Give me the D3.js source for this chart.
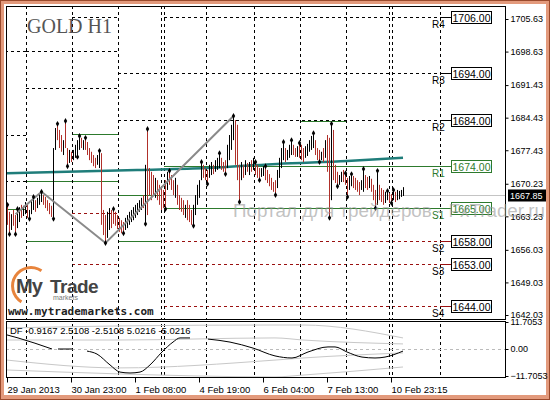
<!DOCTYPE html>
<html>
<head>
<meta charset="UTF-8">
<title>GOLD H1</title>
<script src="https://d3js.org/d3.v7.min.js"></script>
<style>
    body { margin: 0; padding: 0; background: #fff; }
    svg text { font-family: "Liberation Sans", Arial, sans-serif; }
</style>
</head>
<body>
<svg id="chart" width="550" height="400"></svg>
<script>
// price axis + time axis
const priceTicks = [1705.63, 1698.63, 1691.43, 1684.43, 1677.43, 1670.23, 1663.23, 1656.03, 1649.03, 1642.03];
const lastPrice = 1667.85;
const timeLabels = ["29 Jan 2013", "30 Jan 23:00", "1 Feb 08:00", "4 Feb 19:00", "6 Feb 04:00", "7 Feb 13:00", "10 Feb 23:15"];
const timeLabelBars = [0, 32, 64, 96, 128, 160, 192];
const dayStarts = [10, 33, 56, 77.5, 79, 100, 124, 147, 170, 191.5, 193, 217];

// H1 bars
const highs = [
    1665.7, 1664.2, 1663.7, 1664.6, 1663.5, 1664.8, 1665.2, 1665.7, 1665.5, 1666.3,
    1665.7, 1664.6, 1666.7, 1667.4, 1666.7, 1667.2, 1668.0, 1668.5, 1667.8, 1667.4,
    1666.7, 1666.1, 1665.5, 1677.9, 1682.2, 1683.1, 1681.8, 1680.7, 1679.6, 1683.7,
    1677.9, 1677.5, 1677.1, 1677.5, 1678.6, 1679.6, 1680.5, 1680.1, 1679.6, 1680.1,
    1679.2, 1677.9, 1677.1, 1676.4, 1675.8, 1676.4, 1677.3, 1676.8, 1664.6, 1663.5,
    1664.2, 1665.0, 1664.6, 1664.8, 1664.2, 1663.5, 1662.9, 1662.4, 1662.0, 1662.9,
    1663.5, 1664.2, 1664.6, 1665.2, 1665.7, 1666.1, 1666.7, 1667.2, 1667.8, 1674.3,
    1682.0, 1673.6, 1672.8, 1672.1, 1671.5, 1671.0, 1670.0, 1669.3, 1668.9, 1671.0,
    1672.8, 1673.0, 1672.1, 1671.0, 1671.5, 1670.0, 1667.8, 1667.2, 1666.7, 1665.7,
    1666.7, 1665.7, 1664.6, 1665.7, 1667.8, 1670.0, 1671.0, 1674.9, 1674.3, 1673.6,
    1673.2, 1674.3, 1674.9, 1674.3, 1675.3, 1675.8, 1676.8, 1675.8, 1674.9, 1675.3,
    1678.6, 1680.7, 1682.9, 1684.8, 1683.9, 1682.9, 1674.3, 1674.9, 1674.3, 1675.3,
    1674.7, 1674.9, 1675.3, 1675.8, 1674.9, 1674.3, 1673.6, 1673.6, 1674.0, 1674.0,
    1673.2, 1672.3, 1671.5, 1670.6, 1671.0, 1673.2, 1675.8, 1677.9, 1679.2, 1677.9,
    1677.5, 1678.6, 1679.6, 1678.6, 1677.9, 1678.3, 1679.0, 1678.6, 1677.9, 1678.3,
    1678.8, 1679.6, 1680.5, 1681.1, 1679.6, 1677.9, 1677.5, 1677.1, 1677.9, 1679.6,
    1680.7, 1680.1, 1683.1, 1681.8, 1674.3, 1672.8, 1672.1, 1672.8, 1673.2, 1672.5,
    1671.5, 1671.9, 1672.3, 1671.9, 1671.5, 1671.0, 1670.6, 1671.0, 1673.4, 1672.1,
    1671.7, 1671.9, 1671.3, 1670.0, 1668.9, 1673.0, 1670.0, 1669.3, 1668.9, 1668.5,
    1668.7, 1668.2, 1668.0, 1668.9, 1668.5, 1668.9, 1668.7, 1668.9, 1669.5
];
const lows = [
    1661.4, 1659.4, 1660.3, 1661.2, 1659.4, 1660.7, 1662.0, 1662.9, 1663.3, 1663.7,
    1662.9, 1662.7, 1663.7, 1664.6, 1664.2, 1665.0, 1665.7, 1666.3, 1665.7, 1665.0,
    1664.4, 1663.7, 1663.1, 1662.7, 1677.5, 1679.6, 1677.9, 1677.1, 1676.4, 1677.9,
    1674.0, 1674.7, 1674.9, 1675.3, 1675.8, 1676.0, 1677.5, 1677.9, 1677.5, 1677.5,
    1676.4, 1675.3, 1674.7, 1674.0, 1673.6, 1674.3, 1673.6, 1661.4, 1659.2, 1657.5,
    1658.6, 1660.3, 1660.7, 1661.6, 1661.2, 1660.5, 1659.9, 1659.6, 1659.6, 1660.3,
    1660.7, 1661.4, 1662.0, 1662.4, 1662.9, 1663.5, 1664.2, 1664.6, 1665.0, 1661.6,
    1663.5, 1667.8, 1666.7, 1667.8, 1667.2, 1666.7, 1665.7, 1664.6, 1665.0, 1664.8,
    1668.9, 1670.0, 1668.9, 1667.8, 1667.2, 1665.7, 1664.6, 1664.2, 1663.5, 1662.9,
    1662.4, 1662.0, 1661.4, 1661.2, 1663.5, 1665.7, 1667.2, 1671.0, 1671.5, 1671.0,
    1670.2, 1671.5, 1672.1, 1672.3, 1672.8, 1673.2, 1673.6, 1673.2, 1672.8, 1672.3,
    1673.6, 1675.3, 1677.5, 1679.6, 1674.3, 1671.0, 1666.3, 1671.0, 1671.5, 1672.1,
    1672.8, 1672.1, 1672.8, 1673.2, 1672.1, 1671.5, 1671.0, 1671.7, 1671.9, 1671.0,
    1670.4, 1669.7, 1668.9, 1668.5, 1667.8, 1669.3, 1671.5, 1673.6, 1675.3, 1674.9,
    1675.3, 1675.8, 1676.4, 1676.4, 1676.0, 1676.0, 1675.8, 1675.3, 1674.9, 1675.8,
    1676.2, 1677.1, 1677.5, 1677.9, 1676.4, 1675.3, 1674.9, 1675.3, 1674.9, 1675.8,
    1672.8, 1662.9, 1666.7, 1671.0, 1670.4, 1669.7, 1670.0, 1670.6, 1670.6, 1670.0,
    1667.4, 1668.9, 1669.7, 1669.3, 1668.9, 1668.5, 1667.8, 1668.9, 1668.5, 1669.3,
    1668.9, 1669.3, 1668.5, 1666.7, 1665.0, 1665.7, 1666.7, 1666.3, 1665.7, 1666.1,
    1666.7, 1666.1, 1666.1, 1666.7, 1666.3, 1666.7, 1666.9, 1667.4, 1667.6
];
// 1 = bar closed lower (red), 0 = closed higher (black)
const bearish = [
    1,1,0,1,1,0,0,1,0,0, 1,0,0,0,1,0,0,0,1,1, 1,1,1,0,0,1,1,1,0,1, 1,0,1,0,0,0,0,1,0,1,
    1,1,1,1,1,0,0,1,1,1, 0,0,1,1,1,1,1,1,1,0, 0,0,0,0,0,0,0,0,1,0, 1,1,1,1,0,1,1,1,1,1,
    0,1,1,1,0,1,1,1,1,0, 1,1,1,0,0,0,0,0,1,1, 1,0,0,1,0,0,0,1,1,1, 0,0,0,0,1,1,1,0,1,0,
    1,0,1,0,1,1,1,0,0,1, 1,1,1,1,1,0,0,0,0,1, 0,0,0,1,1,0,1,1,1,0, 0,0,0,0,1,1,1,0,1,0,
    1,1,0,1,1,1,0,0,1,1, 1,0,0,1,1,1,1,0,0,1, 1,0,1,1,1,0,1,1,1,0, 0,1,1,0,1,0,0,0,0
];

const fractalUp = [0, 5, 13, 17, 25, 29, 36, 39, 46, 53, 70, 81, 97, 106, 113, 124, 129, 138, 142, 146, 153, 162, 169, 172, 178, 185, 190, 193];
const fractalDown = [1, 4, 11, 23, 30, 35, 49, 58, 69, 79, 93, 100, 109, 116, 126, 134, 156, 161, 165, 170, 184, 192];

const zigzagBars = [4, 17, 49, 113];
const zigzagPrices = [1663.7, 1668.5, 1657.5, 1684.8];

const maBars = [0, 65, 100, 135, 170, 198];
const maValues = [1672.5, 1673.2, 1673.6, 1674.5, 1675.1, 1675.8];

// pivot levels of the running week, with their tags
const levelNames = ["R4", "R3", "R2", "R1", "S1", "S2", "S3", "S4"];
const levelValues = [1706.00, 1694.00, 1684.00, 1674.00, 1665.00, 1658.00, 1653.00, 1644.00];
const levelStart = 79, levelEnd = 217;

// older pivot segments: [fromBar, toBar, price, kind]  kind R = resistance, G = R1/S1, S = support
const pivotSegs = [
    [-0.5, 10, 1698.7, "R"], [-0.5, 10, 1680.7, "R"], [-0.5, 10, 1670.8, "R"], [-0.5, 10, 1664.8, "G"],
    [10, 33, 1698.7, "R"], [10, 33, 1690.8, "R"], [10, 33, 1670.8, "G"], [10, 33, 1657.9, "G"],
    [33, 56, 1706.1, "R"], [33, 56, 1698.7, "R"], [33, 56, 1690.8, "R"], [33, 56, 1680.9, "G"],
    [33, 56, 1670.8, "G"], [33, 56, 1663.9, "S"], [33, 56, 1652.9, "S"],
    [56, 77.5, 1694.0, "R"], [56, 77.5, 1683.9, "R"], [56, 77.5, 1667.8, "G"], [56, 77.5, 1657.9, "G"],
    [147, 170, 1683.7, "G"]
];

// DF oscillator (null = gap)
const dfBars = [0, 5.5, 22.5, 24, 25.5, 33, 36, 40, 45, 51.5, 56.5, 61.5, 66.5, 71.5, 77.5, 83, 86.5, 91.5, 95,
    100.5, 111.5, 123, 134, 142.5, 150.5, 160.5, 164, 170, 177.5, 184, 189, 198];
const dfValues = [6.1, 4.8, 0, null, 0, 0, null, -0.9, -2.2, -6.9, -10.0, -10.4, -10.0, -6.9, -1.3, 3.0, 4.8, 4.8, null,
    4.3, 3.0, 0.4, -3.0, -3.9, -1.3, 0.9, 0.9, -1.3, -3.5, -3.9, -3.5, -0.9];
const bandBars = [0, 56, 134, 148, 198];
const bandUpper2 = [9.1, 10.0, 10.4, 10.4, 4.8];
const bandUpper1 = [3.9, 3.9, 4.8, 3.9, 2.2];
const bandLower1 = [-4.8, -8.2, -4.8, -3.9, -1.7];
const bandLower2 = [-9.1, -10.8, -12.1, -11.3, -7.8];
const dfTicks = [11.7053, 0, -11.7053];
const dfLegend = "DF -0.9167 2.5108 -2.5108 5.0216 -5.0216";

const plot = { left: 6, right: 505, top: 6, bottom: 319 };
const sub = { top: 321, bottom: 377 };

const svg = d3.select("#chart");

// frame
svg.append("rect").attr("width", 550).attr("height", 400).attr("fill", "#e39a7c");
svg.append("rect").attr("x", 0.5).attr("y", 0.5).attr("width", 549).attr("height", 399)
    .attr("fill", "none").attr("stroke", "#9a4a2c");
svg.append("rect").attr("x", 4).attr("y", 4).attr("width", 542).attr("height", 391).attr("fill", "#fff");

const x = d3.scaleLinear().domain([0, 249]).range([7, 505]);
const y = d3.scaleLinear().domain([1642.03, 1705.63]).range([315, 19]);
const yDf = d3.scaleLinear().domain([-11.7053, 11.7053]).range([376, 322]);

svg.append("clipPath").attr("id", "clipMain").append("rect")
    .attr("x", plot.left).attr("y", plot.top)
    .attr("width", plot.right - plot.left).attr("height", plot.bottom - plot.top);
svg.append("clipPath").attr("id", "clipSub").append("rect")
    .attr("x", plot.left).attr("y", sub.top)
    .attr("width", plot.right - plot.left).attr("height", sub.bottom - sub.top);

const main = svg.append("g").attr("clip-path", "url(#clipMain)");
const lower = svg.append("g").attr("clip-path", "url(#clipSub)");

// current price line
main.append("line")
    .attr("x1", plot.left).attr("x2", plot.right)
    .attr("y1", Math.round(y(lastPrice)) + 0.5).attr("y2", Math.round(y(lastPrice)) + 0.5)
    .attr("stroke", "#c4c4c4");

// logo panel
main.append("rect").attr("x", plot.left).attr("y", 268).attr("width", 112).attr("height", 51).attr("fill", "#fff");

const kindColor = { R: "#000", G: "#2d7a2d", S: "#9a1010" };
const kindDash = { R: "3,3", G: null, S: "3,3" };

main.selectAll(".seg")
    .data(pivotSegs)
    .enter().append("line")
    .attr("x1", d => x(d[0]) - 1).attr("x2", d => x(d[1]) - 1)
    .attr("y1", d => Math.round(y(d[2])) + 0.5).attr("y2", d => Math.round(y(d[2])) + 0.5)
    .attr("stroke", d => kindColor[d[3]])
    .attr("stroke-dasharray", d => kindDash[d[3]]);

const levelKind = levelNames.map(n => n === "R1" || n === "S1" ? "G" : n[0]);
main.selectAll(".lvl")
    .data(levelValues)
    .enter().append("line")
    .attr("x1", x(levelStart) - 1).attr("x2", x(levelEnd) - 1)
    .attr("y1", d => Math.round(y(d)) + 0.5).attr("y2", d => Math.round(y(d)) + 0.5)
    .attr("stroke", (d, i) => kindColor[levelKind[i]])
    .attr("stroke-dasharray", (d, i) => kindDash[levelKind[i]]);

// day separators
[main, lower].forEach(g => {
    g.selectAll(".sep")
        .data(dayStarts)
        .enter().append("line")
        .attr("x1", d => Math.round(x(d)) - 0.5).attr("x2", d => Math.round(x(d)) - 0.5)
        .attr("y1", 0).attr("y2", 400)
        .attr("stroke", "#000")
        .attr("stroke-dasharray", "3,3");
});

// moving average
main.append("path")
    .datum(maBars.map((b, i) => [b, maValues[i]]))
    .attr("d", d3.line().x(d => x(d[0])).y(d => y(d[1])).curve(d3.curveMonotoneX))
    .attr("fill", "none").attr("stroke", "#1f7d7a").attr("stroke-width", 2.5);

// bars
main.selectAll(".bar")
    .data(highs)
    .enter().append("line")
    .attr("x1", (d, i) => x(i) + 0.5).attr("x2", (d, i) => x(i) + 0.5)
    .attr("y1", d => y(d)).attr("y2", (d, i) => y(lows[i]))
    .attr("stroke", (d, i) => bearish[i] ? "#b0302a" : "#000");

// zigzag
main.append("path")
    .datum(zigzagBars.map((b, i) => [b, zigzagPrices[i]]))
    .attr("d", d3.line().x(d => x(d[0]) + 0.5).y(d => y(d[1])))
    .attr("fill", "none").attr("stroke", "#8a8a8a").attr("stroke-width", 2);

// fractals
const diamond = d3.symbol().type(d3.symbolDiamond).size(10);
main.selectAll(".fu")
    .data(fractalUp)
    .enter().append("path")
    .attr("d", diamond)
    .attr("transform", d => `translate(${x(d) + 0.5},${y(highs[d])})`)
    .attr("fill", "#000");
main.selectAll(".fd")
    .data(fractalDown)
    .enter().append("path")
    .attr("d", diamond)
    .attr("transform", d => `translate(${x(d) + 0.5},${y(lows[d])})`)
    .attr("fill", "#000");

// title
svg.append("text").attr("x", 27).attr("y", 33)
    .style("font-family", "'Liberation Serif', serif").style("font-size", "20px")
    .attr("fill", "#555").text("GOLD H1");

// logo
const logo = svg.append("g");
logo.append("path")
    .attr("d", d3.arc().innerRadius(17).outerRadius(20).startAngle(-2.6).endAngle(0.6)())
    .attr("transform", "translate(31,286)")
    .attr("fill", "#e8843c");
logo.append("text").attr("x", 16).attr("y", 293)
    .style("font-size", "20px").style("font-weight", "bold").attr("fill", "#444")
    .attr("letter-spacing", -1).text("My");
logo.append("text").attr("x", 50).attr("y", 293)
    .style("font-size", "19px").style("font-weight", "bold").attr("fill", "#444")
    .attr("letter-spacing", -0.5).text("Trade");
logo.append("text").attr("x", 53).attr("y", 300)
    .style("font-size", "7px").attr("fill", "#777").text("markets");
logo.append("text").attr("x", 8).attr("y", 315)
    .style("font-family", "'DejaVu Sans Mono', monospace").style("font-size", "11px")
    .style("font-weight", "bold").attr("fill", "#222").text("www.mytrademarkets.com");

// level tags
const tags = svg.selectAll(".tag")
    .data(levelValues)
    .enter().append("g")
    .attr("transform", d => `translate(0,${Math.round(y(d)) + 0.5})`);
tags.append("line").attr("x1", x(levelEnd) - 1).attr("x2", 452)
    .attr("stroke", (d, i) => kindColor[levelKind[i]]);
tags.append("rect").attr("x", 451.5).attr("y", -6).attr("width", 40).attr("height", 12)
    .attr("fill", "#fff").attr("stroke", (d, i) => levelKind[i] === "G" ? "#2d7a2d" : "#000");
tags.append("text").attr("x", 471.5).attr("y", 4).attr("text-anchor", "middle")
    .style("font-size", "10.5px")
    .attr("fill", (d, i) => levelKind[i] === "G" ? "#2d7a2d" : "#000")
    .text(d => d3.format(".2f")(d));
tags.append("text").attr("x", 432).attr("y", 10)
    .style("font-size", "10px")
    .attr("fill", (d, i) => levelKind[i] === "G" ? "#2d7a2d" : "#000")
    .text((d, i) => levelNames[i]);

// oscillator
lower.append("line")
    .attr("x1", plot.left).attr("x2", plot.right)
    .attr("y1", Math.round(yDf(0)) + 0.5).attr("y2", Math.round(yDf(0)) + 0.5)
    .attr("stroke", "#bbb").attr("stroke-dasharray", "3,3");
[bandUpper2, bandUpper1, bandLower1, bandLower2].forEach(band => {
    lower.append("path")
        .datum(bandBars.map((b, i) => [b, band[i]]))
        .attr("d", d3.line().x(d => x(d[0])).y(d => yDf(d[1])).curve(d3.curveMonotoneX))
        .attr("fill", "none").attr("stroke", "#c8c8c8");
});
lower.append("path")
    .datum(dfBars.map((b, i) => [b, dfValues[i]]))
    .attr("d", d3.line().defined(d => d[1] !== null).x(d => x(d[0])).y(d => yDf(d[1])).curve(d3.curveMonotoneX))
    .attr("fill", "none").attr("stroke", "#000");
svg.append("text").attr("x", 10).attr("y", 334)
    .style("font-size", "9.5px").attr("fill", "#000").text(dfLegend);

// panel borders
svg.append("rect").attr("x", plot.left + 0.5).attr("y", plot.top + 0.5)
    .attr("width", plot.right - plot.left).attr("height", plot.bottom - plot.top)
    .attr("fill", "none").attr("stroke", "#000");
svg.append("rect").attr("x", plot.left + 0.5).attr("y", sub.top + 0.5)
    .attr("width", plot.right - plot.left).attr("height", sub.bottom - sub.top)
    .attr("fill", "none").attr("stroke", "#000");

// axes
const yAxis = svg.append("g")
    .attr("transform", `translate(${plot.right + 0.5},0)`)
    .call(d3.axisRight(y).tickValues(priceTicks).tickFormat(d3.format(".2f")).tickSize(3).tickPadding(2));
yAxis.select(".domain").remove();
yAxis.selectAll("text").style("font-size", "9px").style("font-family", "'Liberation Sans', Arial, sans-serif");

const dfAxis = svg.append("g")
    .attr("transform", `translate(${plot.right + 0.5},0)`)
    .call(d3.axisRight(yDf).tickValues(dfTicks).tickFormat(d => d === 0 ? "0.00" : d3.format(".4f")(d)).tickSize(3).tickPadding(2));
dfAxis.select(".domain").remove();
dfAxis.selectAll("text").style("font-size", "9px").style("font-family", "'Liberation Sans', Arial, sans-serif");

const xAxis = svg.append("g")
    .attr("transform", `translate(0,${sub.bottom + 0.5})`)
    .call(d3.axisBottom(x).tickValues(timeLabelBars).tickFormat((d, i) => timeLabels[i]).tickSize(5).tickPadding(4));
xAxis.select(".domain").remove();
xAxis.selectAll("text").attr("text-anchor", "start").attr("x", 0)
    .style("font-size", "9.5px").style("font-family", "'Liberation Sans', Arial, sans-serif");

// last price tag
const lp = svg.append("g").attr("transform", `translate(0,${Math.round(y(lastPrice)) + 0.5})`);
lp.append("rect").attr("x", 508).attr("y", -6).attr("width", 38).attr("height", 12).attr("fill", "#000");
lp.append("text").attr("x", 510).attr("y", 3.5).style("font-size", "9px").attr("fill", "#fff").text(d3.format(".2f")(lastPrice));

// watermark
svg.append("text").attr("x", 233).attr("y", 217)
    .attr("textLength", 312).attr("lengthAdjust", "spacingAndGlyphs")
    .style("font-size", "18px").attr("fill", "#999").attr("fill-opacity", 0.6)
    .text("Портал для трейдеров - FxTrader.ru");
</script>
</body>
</html>
